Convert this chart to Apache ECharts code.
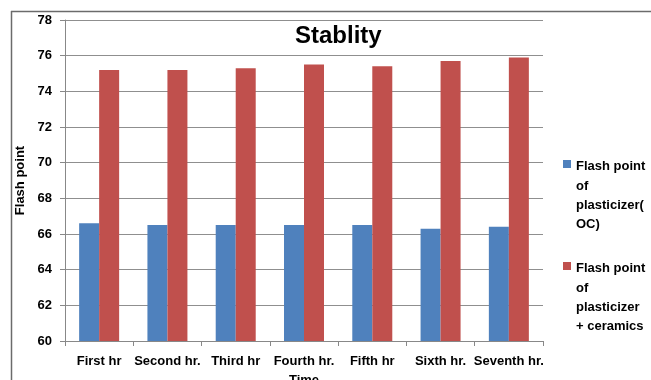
<!DOCTYPE html>
<html><head><meta charset="utf-8">
<script src="https://cdn.jsdelivr.net/npm/echarts@6/dist/echarts.min.js"></script>
<style>html,body{margin:0;padding:0;background:#fff}#c{width:651px;height:380px}</style>
</head><body><div id="c"></div>
<script>
var categories = ['First hr', 'Second hr.', 'Third hr', 'Fourth hr.', 'Fifth hr', 'Sixth hr.', 'Seventh hr.'];
var seriesNames = ['Flash point of plasticizer( OC)', 'Flash point of plasticizer + ceramics'];
var legendLines = [['Flash point', 'of', 'plasticizer(', 'OC)'], ['Flash point', 'of', 'plasticizer', '+ ceramics']];
var ocValues = [66.6, 66.5, 66.5, 66.5, 66.5, 66.3, 66.4];
var ceramicValues = [75.2, 75.2, 75.3, 75.5, 75.4, 75.7, 75.9];
var yTicks = [60, 62, 64, 66, 68, 70, 72, 74, 76, 78];
var colors = ['#4F81BD', '#C0504D'];
var FONT = 'Liberation Sans';

var chart = echarts.init(document.getElementById('c'), null, {renderer: 'canvas'});
var graphics = [
  {type: 'line', shape: {x1: 11, y1: 11.5, x2: 651, y2: 11.5}, style: {stroke: '#6b6b6b', lineWidth: 1.5}},
  {type: 'line', shape: {x1: 11.5, y1: 11, x2: 11.5, y2: 380}, style: {stroke: '#6b6b6b', lineWidth: 1.5}}
];
var legendTops = [157, 259];
legendLines.forEach(function (lines, i) {
  graphics.push({type: 'rect', shape: {x: 563, y: legendTops[i] + 3, width: 8, height: 8}, style: {fill: colors[i]}});
  graphics.push({type: 'text', x: 576, y: legendTops[i], style: {text: lines.join('\n'), font: 'bold 13px ' + FONT, fill: '#000', lineHeight: 19.3, verticalAlign: 'top'}});
});
chart.setOption({
  animation: false,
  backgroundColor: '#fff',
  title: {text: 'Stablity', left: 290, top: 19, textStyle: {fontFamily: FONT, fontWeight: 'bold', fontSize: 24, color: '#000'}},
  grid: {left: 65, top: 20, right: 108, bottom: 39, containLabel: false, outerBoundsMode: 'none'},
  xAxis: {
    type: 'category', data: categories,
    name: 'Time', nameLocation: 'middle', nameGap: 33,
    nameTextStyle: {fontFamily: FONT, fontWeight: 'bold', fontSize: 13, color: '#000'},
    axisLine: {lineStyle: {color: '#888', width: 1}},
    axisTick: {show: true, alignWithLabel: false, length: 5, lineStyle: {color: '#888'}},
    axisLabel: {fontFamily: FONT, fontWeight: 'bold', fontSize: 13, color: '#000', margin: 14, interval: 0}
  },
  yAxis: {
    type: 'value', min: yTicks[0], max: yTicks[yTicks.length - 1], interval: 2,
    name: 'Flash point', nameLocation: 'middle', nameGap: 34, nameRotate: 90,
    nameTextStyle: {fontFamily: FONT, fontWeight: 'bold', fontSize: 13, color: '#000'},
    axisLine: {show: true, lineStyle: {color: '#888', width: 1}},
    axisTick: {show: true, length: 5, lineStyle: {color: '#888'}},
    axisLabel: {fontFamily: FONT, fontWeight: 'bold', fontSize: 13, color: '#000', margin: 13},
    splitLine: {lineStyle: {color: '#8f8f8f', width: 1.2}}
  },
  series: [
    {name: seriesNames[0], type: 'bar', data: ocValues, barWidth: 20, barGap: '0%', itemStyle: {color: colors[0]}},
    {name: seriesNames[1], type: 'bar', data: ceramicValues, barWidth: 20, barGap: '0%', itemStyle: {color: colors[1]}}
  ],
  graphic: graphics
});
</script></body></html>
